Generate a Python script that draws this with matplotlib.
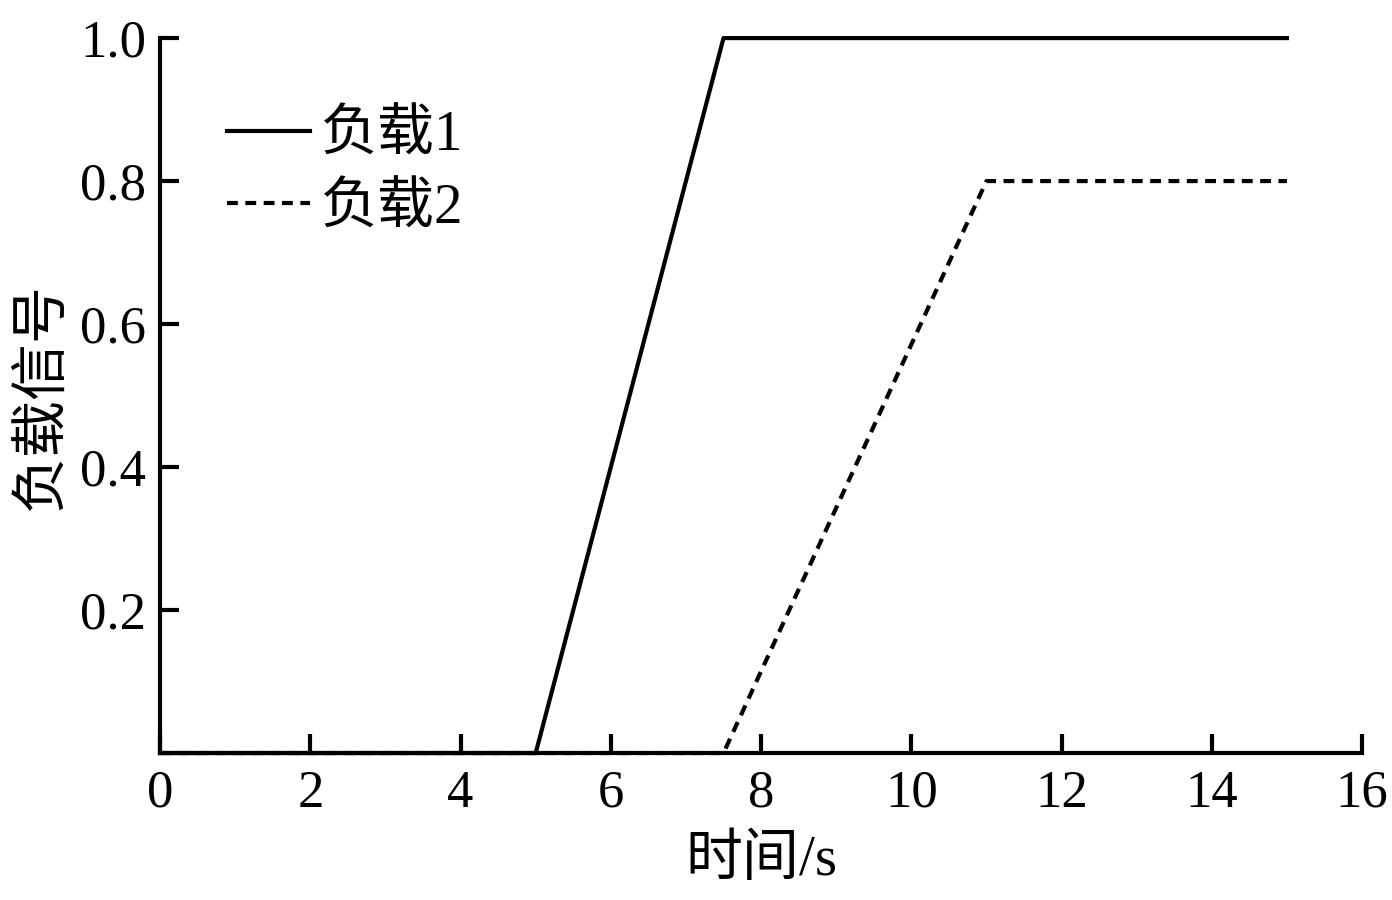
import matplotlib
matplotlib.use('Agg')
from matplotlib import pyplot as plt

plt.rcParams['font.family'] = ['Liberation Serif', 'Noto Sans CJK SC']

# load signals (time in s)
t1 = [0, 5, 7.5, 15]
load1 = [0, 0, 1.0, 1.0]
t2 = [0, 7.5, 11, 15]
load2 = [0, 0, 0.8, 0.8]

xticks = [0, 2, 4, 6, 8, 10, 12, 14, 16]
yticks = [0.2, 0.4, 0.6, 0.8, 1.0]

fig = plt.figure(figsize=(13.92, 9), dpi=100)
ax = fig.add_axes([0.115, 0.1633, 0.8635, 0.7944])

ax.plot(t1, load1, color='black', lw=3.0, label='负载1', clip_on=False)
ax.plot(t2, load2, color='black', lw=3.0, linestyle=(0, (2.6, 1.8)), label='负载2', clip_on=False)

ax.set_xlim(0, 16)
ax.set_ylim(0, 1.0)
ax.set_xticks(xticks)
ax.set_yticks(yticks)
ax.set_yticklabels(['0.2', '0.4', '0.6', '0.8', '1.0'])

for s in ['top', 'right']:
    ax.spines[s].set_visible(False)
for s in ['left', 'bottom']:
    ax.spines[s].set_linewidth(3)

ax.tick_params(axis='both', direction='in', length=14, width=3, labelsize=38)
ax.tick_params(axis='x', pad=12)
ax.tick_params(axis='y', pad=10)

ax.set_xlabel('时间/s', fontsize=41, labelpad=12)
ax.set_ylabel('负载信号', fontsize=41, labelpad=8)

leg = ax.legend(loc='upper left', bbox_to_anchor=(0.013, 0.97), frameon=False,
                fontsize=41, handlelength=1.45, handletextpad=0.2, labelspacing=0.35)

fig.savefig('out.png', dpi=100)
